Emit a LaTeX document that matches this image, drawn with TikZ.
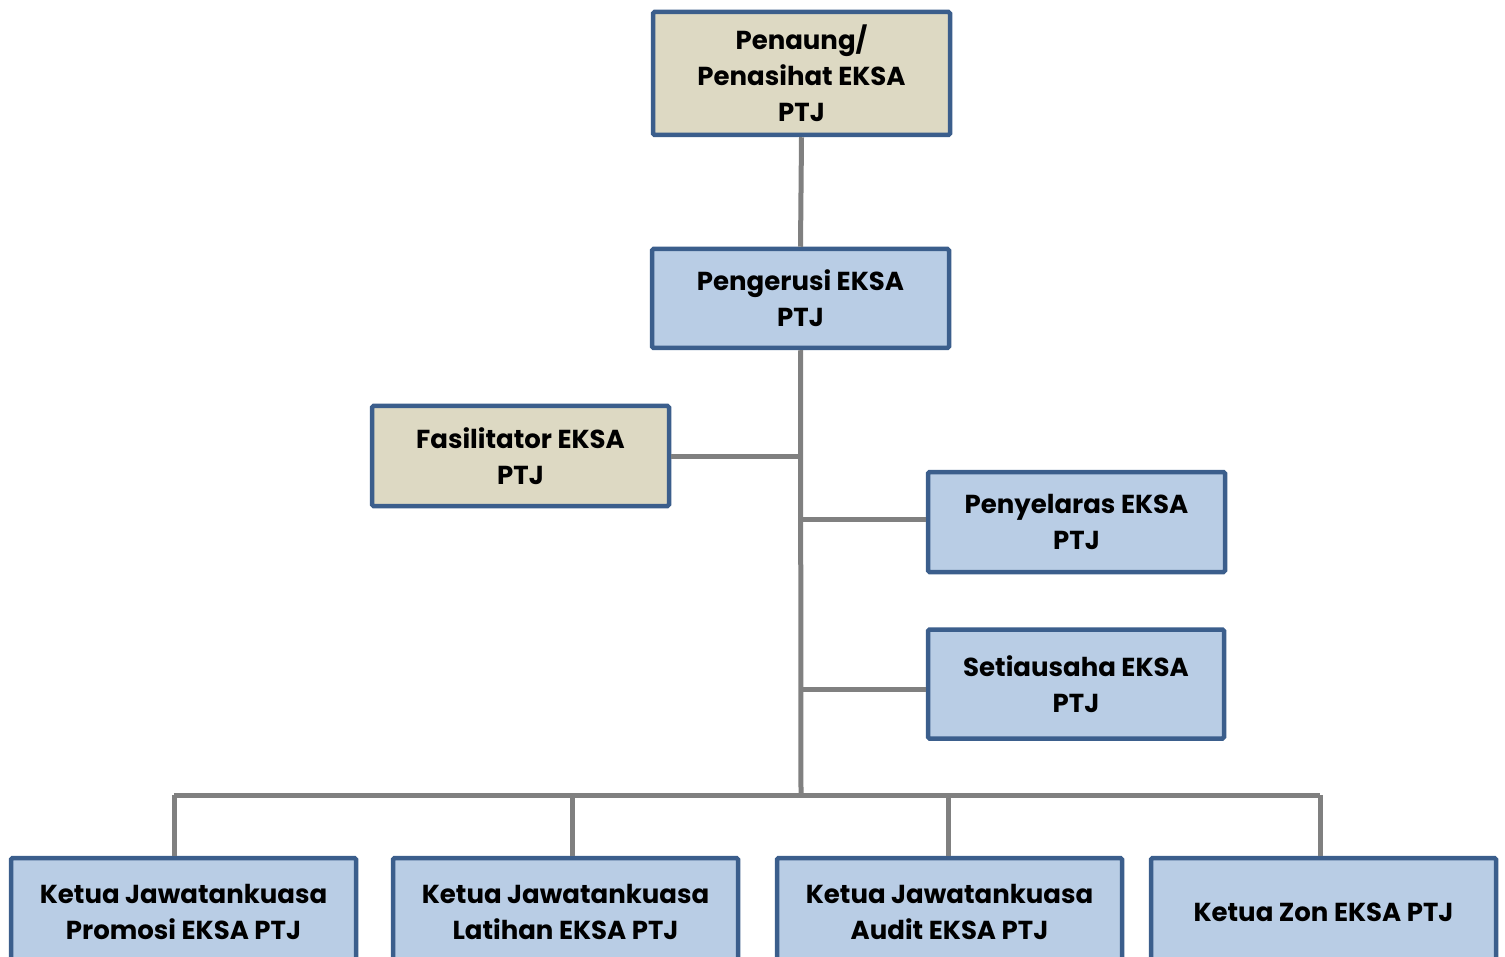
\documentclass[tikz,border=0pt]{standalone}
\usepackage{fontspec}
\setmainfont{Poppins}[UprightFont=*-Bold,BoldFont=*-Bold]
\definecolor{tanfill}{HTML}{DDD9C3}
\definecolor{bluefill}{HTML}{B9CDE5}
\definecolor{boxline}{HTML}{3B5E8C}
\definecolor{conn}{HTML}{808080}
\begin{document}
\begin{tikzpicture}[x=1pt,y=-1pt,
  box/.style={draw=boxline,line width=4.5pt,rounded corners=1.5pt,align=center,
    font=\fontsize{26}{36}\selectfont,text=black,inner sep=0pt},
  tanbox/.style={box,fill=tanfill},
  bluebox/.style={box,fill=bluefill},
  link/.style={draw=conn,line width=5pt}]
\useasboundingbox (0,0) rectangle (1505,957);
\coordinate (tb) at (801,795);
\coordinate (bl) at (174,795);
\coordinate (br) at (1320,795);
\node[tanbox,minimum width=297,minimum height=123] (top) at (801.5,73.5) {Penaung/\\Penasihat EKSA\\PTJ};
\node[bluebox,minimum width=297,minimum height=99] (peng) at (800.5,298.5) {Pengerusi EKSA\\PTJ};
\node[tanbox,minimum width=297,minimum height=100] (fas) at (520.5,456) {Fasilitator EKSA\\PTJ};
\node[bluebox,minimum width=297,minimum height=100] (peny) at (1076.5,522) {Penyelaras EKSA\\PTJ};
\node[bluebox,minimum width=296,minimum height=109] (set) at (1076,684) {Setiausaha EKSA\\PTJ};
\node[bluebox,minimum width=345,minimum height=108] (k1) at (183.5,912) {Ketua Jawatankuasa\\Promosi EKSA PTJ};
\node[bluebox,minimum width=345,minimum height=108] (k2) at (565.5,912) {Ketua Jawatankuasa\\Latihan EKSA PTJ};
\node[bluebox,minimum width=345,minimum height=108] (k3) at (949.5,912) {Ketua Jawatankuasa\\Audit EKSA PTJ};
\node[bluebox,minimum width=345,minimum height=108] (k4) at (1323.5,912) {Ketua Zon EKSA PTJ};
\path[link] (top.south) -- (peng.north);
\path[link] (peng.south) -- (tb);
\path[link] (bl) -- (br);
\path[link] (fas.east) -- (fas.east -| tb);
\coordinate (py) at (926,519);
\coordinate (sy) at (926,689);
\path[link] (py -| tb) -- (py -| peny.west);
\path[link] (sy -| tb) -- (sy -| set.west);
\coordinate (d1) at (174,795);
\coordinate (d2) at (572,795);
\coordinate (d3) at (948,795);
\coordinate (d4) at (1320,795);
\path[link] (d1) -- (d1 |- k1.north);
\path[link] (d2) -- (d2 |- k2.north);
\path[link] (d3) -- (d3 |- k3.north);
\path[link] (d4) -- (d4 |- k4.north);
\end{tikzpicture}
\end{document}
